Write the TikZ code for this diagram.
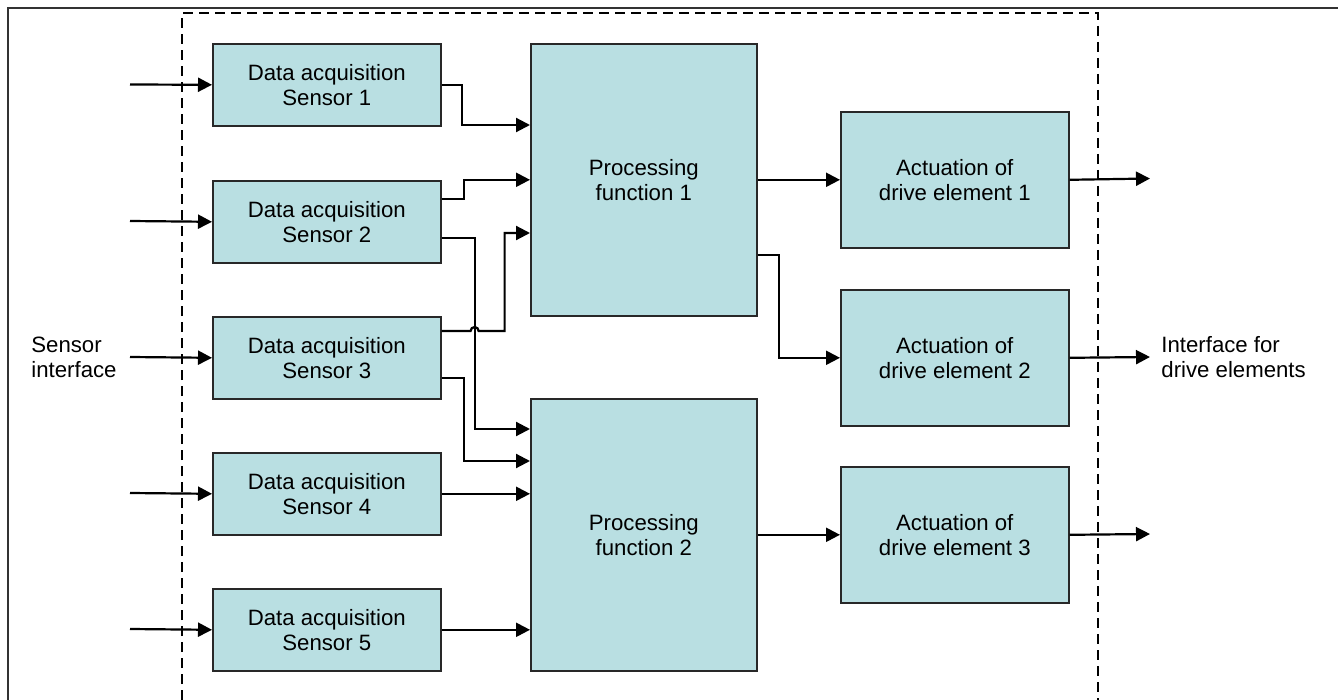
\documentclass[tikz,border=0pt]{standalone}
\usepackage{fontspec}
\setmainfont{Liberation Sans}
\usetikzlibrary{arrows.meta}
\definecolor{boxfill}{RGB}{185,223,226}
\definecolor{boxline}{RGB}{40,40,40}
\definecolor{framegray}{RGB}{50,50,50}
\begin{document}
\begin{tikzpicture}[x=0.5pt,y=-0.5pt,
  blk/.style={draw=boxline,line width=0.8pt,fill=boxfill,anchor=north west,
    inner sep=0pt,align=center,font=\fontsize{11.1}{12.5}\selectfont},
  sensorbox/.style={blk,minimum width=114pt,minimum height=41pt},
  procbox/.style={blk,minimum width=113pt,minimum height=136pt},
  actbox/.style={blk,minimum width=114pt,minimum height=68pt},
  link/.style={line width=1.1pt,-{Triangle[length=7pt,width=7pt]}},
  lbl/.style={anchor=west,align=left,inner sep=0pt,font=\fontsize{11.1}{12.5}\selectfont}
]
\useasboundingbox (0,0) rectangle (1338,700);

% outer frame and dashed system boundary
\draw[framegray,line width=0.8pt] (8,700) -- (8,8) -- (1338,8);
\draw[black,line width=0.9pt,dash pattern=on 5pt off 3pt] (182,700) -- (182,13) -- (1098,13) -- (1098,700);

% sensor acquisition blocks
\node[sensorbox] (s1) at (212,43)  {Data acquisition\\Sensor 1};
\node[sensorbox] (s2) at (212,180) {Data acquisition\\Sensor 2};
\node[sensorbox] (s3) at (212,316) {Data acquisition\\Sensor 3};
\node[sensorbox] (s4) at (212,452) {Data acquisition\\Sensor 4};
\node[sensorbox] (s5) at (212,588) {Data acquisition\\Sensor 5};

% processing blocks
\node[procbox] (p1) at (530,43)  {Processing\\function 1};
\node[procbox] (p2) at (530,398) {Processing\\function 2};

% actuation blocks
\node[actbox] (a1) at (840,111) {Actuation of\\drive element 1};
\node[actbox] (a2) at (840,289) {Actuation of\\drive element 2};
\node[actbox] (a3) at (840,466) {Actuation of\\drive element 3};

% interface labels
\node[lbl] (sif) at (31,357) {Sensor\\interface};
\node[lbl] (dif) at (1161,357) {Interface for\\drive elements};

% free ends of the interface arrows
\coordinate (in1) at (130,84.5);
\coordinate (in2) at (130,221);
\coordinate (in3) at (130,357);
\coordinate (in4) at (130,493);
\coordinate (in5) at (130,629);
\coordinate (out1) at (1150,178.5);
\coordinate (out2) at (1150,357);
\coordinate (out3) at (1150,534);

% sensor inputs
\draw[link] (in1) -- (s1.west);
\draw[link] (in2) -- (s2.west);
\draw[link] (in3) -- (s3.west);
\draw[link] (in4) -- (s4.west);
\draw[link] (in5) -- (s5.west);

% sensors to processing functions
\draw[link] (s1.east) -- ++(20,0) |- (p1.west |- 0,125);
\draw[link] (s2.east |- 0,199) -- ++(22,0) |- (p1.west);
\draw[link] (s2.east |- 0,238) -- ++(33,0) |- (p2.west |- 0,429);
\draw[link] (s3.east |- 0,331) -- ++(29,0) arc[start angle=180,end angle=360,radius=4]
  -- ++(26,0) |- (p1.west |- 0,233);
\draw[link] (s3.east |- 0,378) -- ++(22,0) |- (p2.west |- 0,461);
\draw[link] (s4.east) -- (p2.west |- s4.east);
\draw[link] (s5.east) -- (p2.west |- s5.east);

% processing functions to actuation
\draw[link] (p1.east |- a1.west) -- (a1.west);
\draw[link] (p1.east |- 0,255) -- ++(21,0) |- (a2.west);
\draw[link] (p2.east |- a3.west) -- (a3.west);

% drive outputs
\draw[link] (a1.east) -- (out1);
\draw[link] (a2.east) -- (out2);
\draw[link] (a3.east) -- (out3);
\end{tikzpicture}
\end{document}
